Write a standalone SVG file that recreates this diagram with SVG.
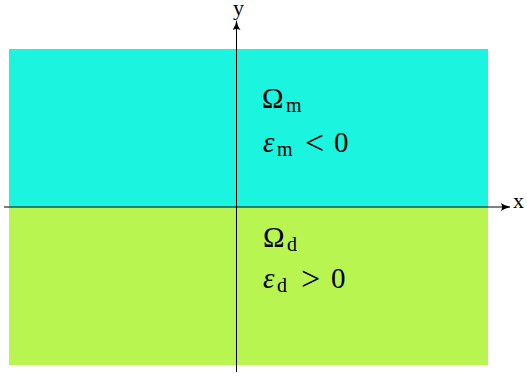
<svg xmlns="http://www.w3.org/2000/svg" width="527" height="378" viewBox="0 0 527 378">
<style>
.lbl{font-family:"Liberation Serif","DejaVu Serif",serif;fill:#000}
.big{font-size:29px}
.eps{font-style:italic}
.sub{font-size:20px}
.rel{font-size:34px}
.ax{font-size:22px}
.axis{stroke:#000;stroke-width:1;fill:none}
</style>
<defs>
<marker id="arr" viewBox="0 0 10 8" refX="9" refY="4" markerWidth="10" markerHeight="8" markerUnits="userSpaceOnUse" orient="auto">
<path d="M0,0 Q4,3.2 10,4 Q4,4.8 0,8 Q2,4 0,0 Z" fill="#000"/>
</marker>
</defs>
<g id="region-m">
<rect x="9" y="49" width="479" height="158" fill="#1bf5e0"/>
<text class="lbl big" x="262" y="108">Ω<tspan class="sub" x="286" y="112">m</tspan></text>
<text class="lbl big" x="263" y="152"><tspan class="eps">ε</tspan><tspan class="sub" x="277" y="156">m</tspan><tspan class="rel" x="305" y="154">&lt;</tspan><tspan x="334" y="152">0</tspan></text>
</g>
<g id="region-d">
<rect x="9" y="207" width="479" height="158" fill="#b9f550"/>
<text class="lbl big" x="263" y="247">Ω<tspan class="sub" x="287" y="251">d</tspan></text>
<text class="lbl big" x="263" y="288"><tspan class="eps">ε</tspan><tspan class="sub" x="277" y="292">d</tspan><tspan class="rel" x="301" y="290">&gt;</tspan><tspan x="331" y="288">0</tspan></text>
</g>
<g id="connectors">
<line class="axis" x1="4" y1="207" x2="510" y2="207" marker-end="url(#arr)"/>
<line class="axis" x1="236.5" y1="372" x2="236.5" y2="21" marker-end="url(#arr)"/>
</g>
<g id="axis-labels">
<text class="lbl ax" x="513" y="208">x</text>
<text class="lbl ax" x="233" y="15">y</text>
</g>
</svg>
